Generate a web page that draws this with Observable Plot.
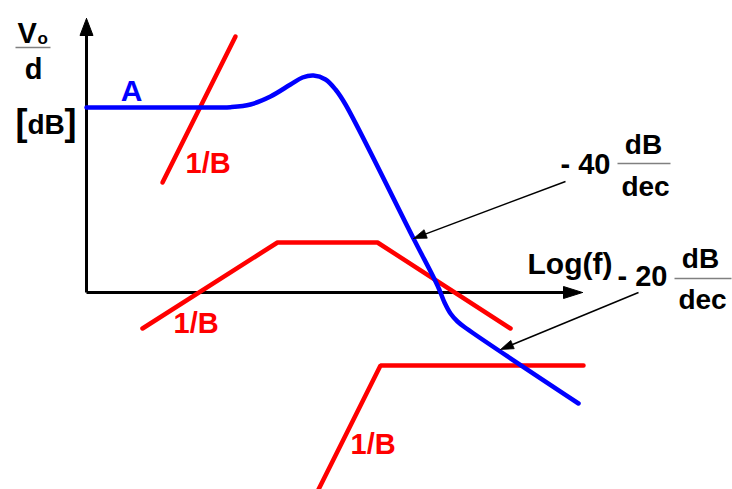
<!DOCTYPE html>
<html><head><meta charset="utf-8">
<script src="https://cdn.jsdelivr.net/npm/d3@7"></script>
<script src="https://cdn.jsdelivr.net/npm/@observablehq/plot@0.6"></script>
<style>
body{margin:0;background:#fff}
#chart svg{display:block}
</style>
</head><body><div id="chart"></div>
<script>
// Units: x = log(f) from the origin, y = dB above the 0 dB axis
const openLoopA = [[0,185],[132,185],[144,185.3],[164,188],[184,196],[204,208],[216,215],[227,217],[239,213],[249,203],[259,188],[327,54],[351,7],[358,-10],[364,-21],[371,-29],[380,-36],[492,-111]];
const invB1 = [[76,110],[149,256]];
const invB2 = [[56,-36],[191,50],[291,50],[424,-36]];
const invB3 = [[232,-197],[294,-73],[497,-73]];
const axes = [[0,0,0,274],[0,0,496,0]];
const slopeArrows = [[479,111,327,54],[552,0,414,-57]];
const curveLabels = ["A","1/B","1/B","1/B"];
const slopeLabels = ["- 40","- 20"];
const unitTop = "dB", unitBottom = "dec";
const yTitle = ["V","o","d","[","dB","]"];
const xTitle = "Log(f)";

const toObj = (pts, id) => pts.map(([x,y]) => ({x, y, id}));
function head([x1,y1,x2,y2], len, hw, id) {
  const dx=x2-x1, dy=y2-y1, L=Math.hypot(dx,dy), ux=dx/L, uy=dy/L;
  const bx=x2-ux*len, by=y2-uy*len, px=-uy, py=ux;
  return [{x:x2,y:y2,id},{x:bx+px*hw,y:by+py*hw,id},{x:bx-px*hw,y:by-py*hw,id},{x:x2,y:y2,id}];
}
function shaft([x1,y1,x2,y2], len) {
  const dx=x2-x1, dy=y2-y1, L=Math.hypot(dx,dy);
  return {x1, y1, x2: x2-dx/L*len*0.8, y2: y2-dy/L*len*0.8};
}
const axisHeads = [...head(axes[0],17,6.5,"ya"), ...head(axes[1],19,6,"xa")];
const slopeHeads = [...head(slopeArrows[0],13,4.5,"s40"), ...head(slopeArrows[1],13,4.5,"s20")];

const F = "'Liberation Sans', Arial, Helvetica, sans-serif";
const T = (x, y, text, size, fill, anchor) => Plot.text([text], {x:() => x, y:() => y, text: d => d, fontSize:size, fill, textAnchor:anchor, lineAnchor:"bottom", fontWeight:"bold", fontFamily:F});
const frac = (x1, x2, y) => Plot.link([0], {x1:() => x1, x2:() => x2, y1:() => y, y2:() => y, stroke:"#808080", strokeWidth:1.6});

const lineStyle = {x:"x", y:"y", strokeWidth:4.5, strokeLinecap:"round", strokeLinejoin:"miter"};

const chart = Plot.plot({
  width:732, height:489, margin:0,
  x:{domain:[-86,646], axis:null},
  y:{domain:[-197,292], axis:null},
  style:{fontFamily:F, background:"#fff"},
  marks:[
    Plot.link(axes.map(a => shaft(a,17)), {x1:"x1",y1:"y1",x2:"x2",y2:"y2", stroke:"black", strokeWidth:3}),
    Plot.line(axisHeads, {x:"x", y:"y", z:"id", fill:"black", stroke:"black", strokeWidth:1}),
    Plot.line(toObj(invB1,"b1"), {...lineStyle, stroke:"#ff0000"}),
    Plot.line(toObj(invB2,"b2"), {...lineStyle, stroke:"#ff0000"}),
    Plot.line(toObj(invB3,"b3"), {...lineStyle, stroke:"#ff0000"}),
    Plot.line(toObj(openLoopA,"a"), {...lineStyle, stroke:"#0000ff", curve:"catmull-rom"}),
    Plot.link(slopeArrows.map(a => shaft(a,13)), {x1:"x1",y1:"y1",x2:"x2",y2:"y2", stroke:"black", strokeWidth:1.5}),
    Plot.line(slopeHeads, {x:"x", y:"y", z:"id", fill:"black", stroke:"black", strokeWidth:0.8}),
    // curve labels
    T(45, 192, curveLabels[0], 30, "#0000ff", "middle"),
    T(99, 120, curveLabels[1], 29, "#ff0000", "start"),
    T(87, -40, curveLabels[2], 29, "#ff0000", "start"),
    T(264, -161, curveLabels[3], 29, "#ff0000", "start"),
    // y title
    T(-69, 250, yTitle[0], 29, "black", "start"),
    T(-49, 249, yTitle[1], 17, "black", "start"),
    frac(-71, -36, 245),
    T(-53, 214, yTitle[2], 29, "black", "middle"),
    T(-71, 158, yTitle[3], 36, "black", "start"),
    T(-59, 159, yTitle[4], 28, "black", "start"),
    T(-22, 158, yTitle[5], 36, "black", "start"),
    // x title
    T(441, 19, xTitle, 30, "black", "start"),
    // -40 dB/dec
    T(524, 119, slopeLabels[0], 29, "black", "end"),
    T(557, 139, unitTop, 28, "black", "middle"),
    frac(531, 584, 129),
    T(559, 97, unitBottom, 28, "black", "middle"),
    // -20 dB/dec
    T(581, 7, slopeLabels[1], 29, "black", "end"),
    T(614, 25, unitTop, 28, "black", "middle"),
    frac(588, 645, 14),
    T(616, -16, unitBottom, 28, "black", "middle")
  ]
});
document.getElementById("chart").append(chart);
</script>
</body></html>
